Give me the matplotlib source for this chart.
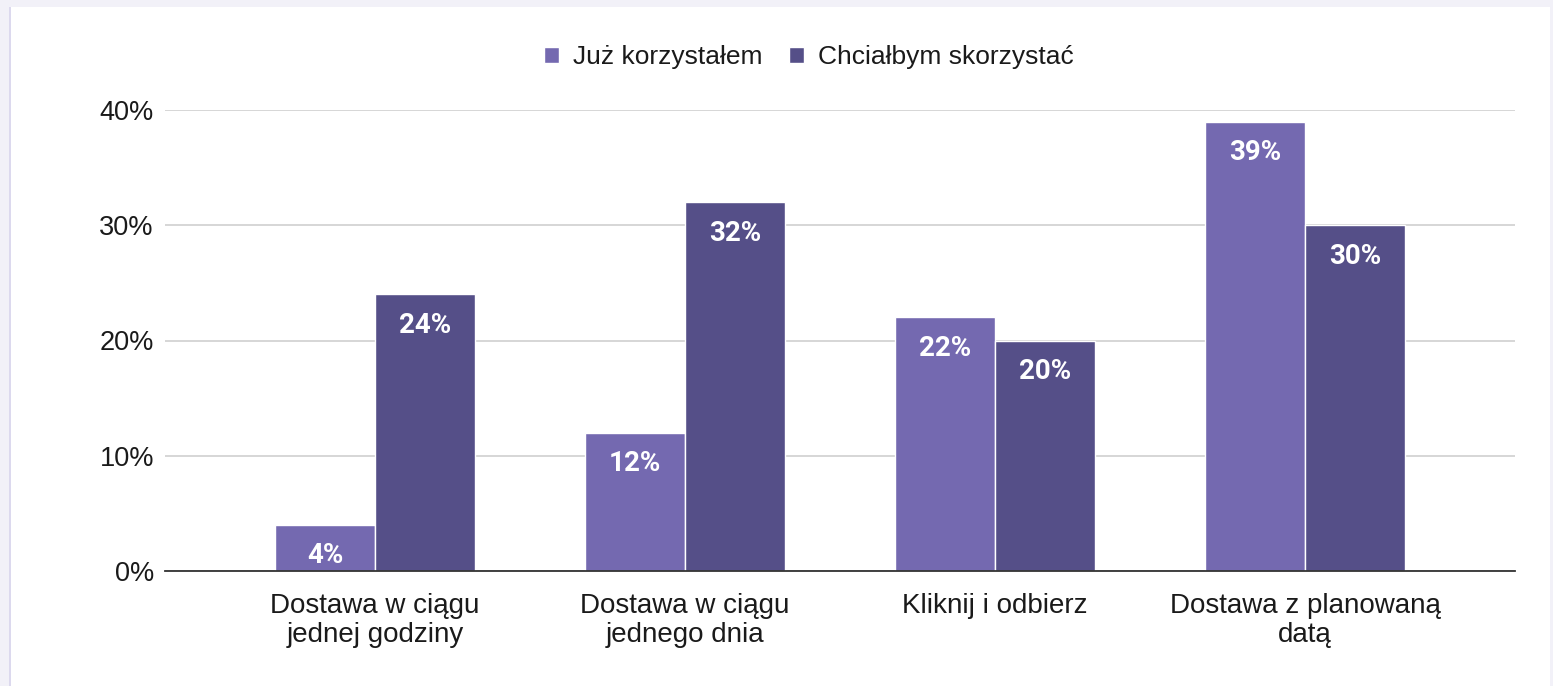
import matplotlib
matplotlib.use("Agg")
import matplotlib.pyplot as plt
from matplotlib.patches import Rectangle
import numpy as np

categories = ["Dostawa w ciągu\njednej godziny", "Dostawa w ciągu\njednego dnia",
              "Kliknij i odbierz", "Dostawa z planowaną\ndatą"]
series_names = ["Już korzystałem", "Chciałbym skorzystać"]
used = [4, 12, 22, 39]
want = [24, 32, 20, 30]
yticks = [0, 10, 20, 30, 40]
colors = ["#7469b0", "#554f88"]

plt.rcParams['font.family'] = ['Liberation Sans', 'DejaVu Sans']

W, H = 1553, 686
FS = 20
fig = plt.figure(figsize=(W / 100, H / 100), dpi=100)
fig.patch.set_facecolor("#f2f1f8")
fig.add_artist(Rectangle((10 / W, 0), (1550 - 10) / W, (H - 7) / H,
                         transform=fig.transFigure, facecolor="white",
                         edgecolor="none", zorder=0))
fig.add_artist(Rectangle((9 / W, 0), 1.5 / W, (H - 7) / H,
                         transform=fig.transFigure, facecolor="#dcd9ee",
                         edgecolor="none", zorder=0))

ax = fig.add_axes([165 / W, 115 / H, (1515 - 165) / W, (571 - 110) / H])
ax.set_facecolor("none")

x = np.arange(len(categories))
bw = 100 / 310
pad = 55 / 310
ax.set_xlim(-0.5 - pad, len(categories) - 0.5 + pad)
ax.set_ylim(0, 40)

for i, (vals, c) in enumerate(zip([used, want], colors)):
    offs = -bw / 2 if i == 0 else bw / 2
    bars = ax.bar(x + offs, vals, width=bw, color=c, edgecolor="white",
                  linewidth=1.0, zorder=3, label=series_names[i], clip_on=False)
    for b, v in zip(bars, vals):
        ax.annotate(f"{v}%", (b.get_x() + b.get_width() / 2, v),
                    xytext=(0, -31), textcoords="offset pixels",
                    ha="center", va="center", color="white",
                    fontsize=20, fontweight="bold", family=["Roboto", "DejaVu Sans"],
                    zorder=5)

ax.set_yticks(yticks)
ax.set_yticklabels([f"{t}%" for t in yticks], fontsize=19.5, color="#1a1a1a")
ax.yaxis.grid(True, color="#cccccc", linewidth=1.1, zorder=0)
ax.set_axisbelow(True)
ax.set_xticks(x)
ax.set_xticklabels(categories, fontsize=FS, color="#1a1a1a", linespacing=1.15)
ax.tick_params(axis="both", length=0)
ax.tick_params(axis="y", pad=8)
ax.tick_params(axis="x", pad=16)
for s in ["top", "right", "left"]:
    ax.spines[s].set_visible(False)
ax.spines["bottom"].set_color("#333333")
ax.spines["bottom"].set_linewidth(1.3)
ax.spines["bottom"].set_zorder(4)

leg = fig.legend(loc="center", bbox_to_anchor=(809 / W, 1 - 57 / H), ncol=2,
                 frameon=False, fontsize=19, handlelength=0.55, handleheight=0.55,
                 handletextpad=0.55, columnspacing=1.0)
for t in leg.get_texts():
    t.set_color("#1a1a1a")

fig.savefig("out.png", dpi=100, facecolor=fig.get_facecolor())
